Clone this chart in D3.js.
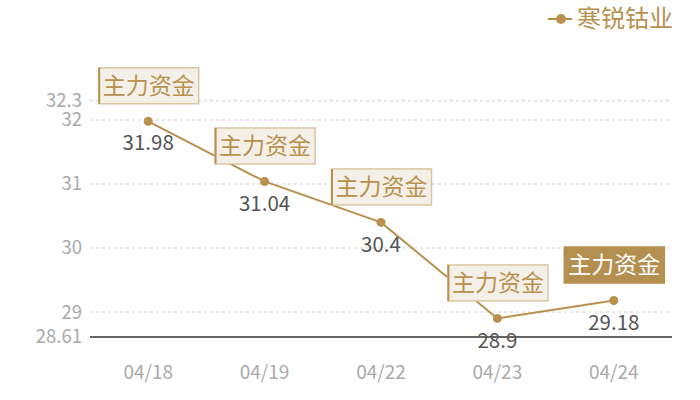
<!DOCTYPE html>
<html><head><meta charset="utf-8">
<script src="https://cdn.jsdelivr.net/npm/d3@7"></script>
<style>body{margin:0;background:#fff;} text{font-family:"Noto Sans CJK SC","Noto Sans",sans-serif;}</style>
</head><body><svg id="c" width="700" height="400"></svg>
<script>
const categories = ["04/18","04/19","04/22","04/23","04/24"];
const values = [31.98, 31.04, 30.4, 28.9, 29.18];
const yTicks = [28.61, 29, 30, 31, 32, 32.3];
const seriesName = "寒锐钴业";
const markLabel = "主力资金";
const highlightIndex = 4;

const svg = d3.select("#c");
const gold = "#b8914f";
const x = d3.scaleBand().domain(categories).range([90, 672]);
const y = d3.scaleLinear().domain([28.61, 32.3]).range([337, 100.8]);

// grid
svg.append("g").selectAll("line").data(yTicks.filter(t => t !== 28.61)).join("line")
  .attr("x1", 90).attr("x2", 672)
  .attr("y1", d => y(d)).attr("y2", d => y(d))
  .attr("stroke", "#d0d0d0").attr("stroke-dasharray", "3,3").attr("stroke-width", 1);
svg.append("line").attr("x1", 90).attr("x2", 672).attr("y1", y(28.61)).attr("y2", y(28.61))
  .attr("stroke", "#333").attr("stroke-width", 1.5);

// y tick labels
svg.append("g").selectAll("text").data(yTicks).join("text")
  .attr("x", 82).attr("y", d => y(d)).attr("dy", "0.35em")
  .attr("text-anchor", "end").attr("fill", "#aaa").attr("font-size", 18.5)
  .text(d => d);

// x labels
svg.append("g").selectAll("text").data(categories).join("text")
  .attr("x", d => x(d) + x.bandwidth()/2).attr("y", 372).attr("dy", "0.35em")
  .attr("text-anchor", "middle").attr("fill", "#aaa").attr("font-size", 19)
  .text(d => d);

const data = categories.map((c, i) => ({c, v: values[i], i}));
const cx = d => x(d.c) + x.bandwidth()/2;

svg.append("path").datum(data)
  .attr("d", d3.line().x(cx).y(d => y(d.v)))
  .attr("fill", "none").attr("stroke", gold).attr("stroke-width", 2);

svg.append("g").selectAll("circle").data(data).join("circle")
  .attr("cx", cx).attr("cy", d => y(d.v)).attr("r", 4.5).attr("fill", gold);

// value labels
svg.append("g").selectAll("text").data(data).join("text")
  .attr("x", cx).attr("y", d => y(d.v) + 22).attr("dy", "0.35em")
  .attr("text-anchor", "middle").attr("fill", "#555").attr("font-size", 20.5)
  .text(d => d.v);

// mark label boxes
const bw = 100, bh = 36;
const boxes = svg.append("g").selectAll("g").data(data).join("g")
  .attr("transform", d => `translate(${cx(d) - bw/2},${y(d.v) - 18 - bh})`);
boxes.append("rect").attr("x", 0.5).attr("y", 0.5).attr("width", bw).attr("height", bh)
  .attr("fill", d => d.i === highlightIndex ? "#b58f50" : "#f4efe7")
  .attr("stroke", d => d.i === highlightIndex ? "#b58f50" : "#dcc7a3").attr("stroke-width", 1.5);
boxes.filter(d => d.i !== highlightIndex).append("line")
  .attr("x1", 1).attr("x2", 1).attr("y1", 0.5).attr("y2", bh + 0.5)
  .attr("stroke", gold).attr("stroke-width", 2);
boxes.append("text").attr("x", bw/2 + 0.5).attr("y", bh/2 + 0.5).attr("dy", "0.35em")
  .attr("text-anchor", "middle").attr("font-size", 23)
  .attr("fill", d => d.i === highlightIndex ? "#fff" : gold)
  .text(markLabel);

// legend
const lg = svg.append("g");
lg.append("line").attr("x1", 548).attr("x2", 572).attr("y1", 19).attr("y2", 19)
  .attr("stroke", gold).attr("stroke-width", 2);
lg.append("circle").attr("cx", 561).attr("cy", 19).attr("r", 5).attr("fill", gold);
lg.append("text").attr("x", 577).attr("y", 19).attr("dy", "0.35em").attr("font-size", 24)
  .attr("fill", gold).text(seriesName);
</script></body></html>
